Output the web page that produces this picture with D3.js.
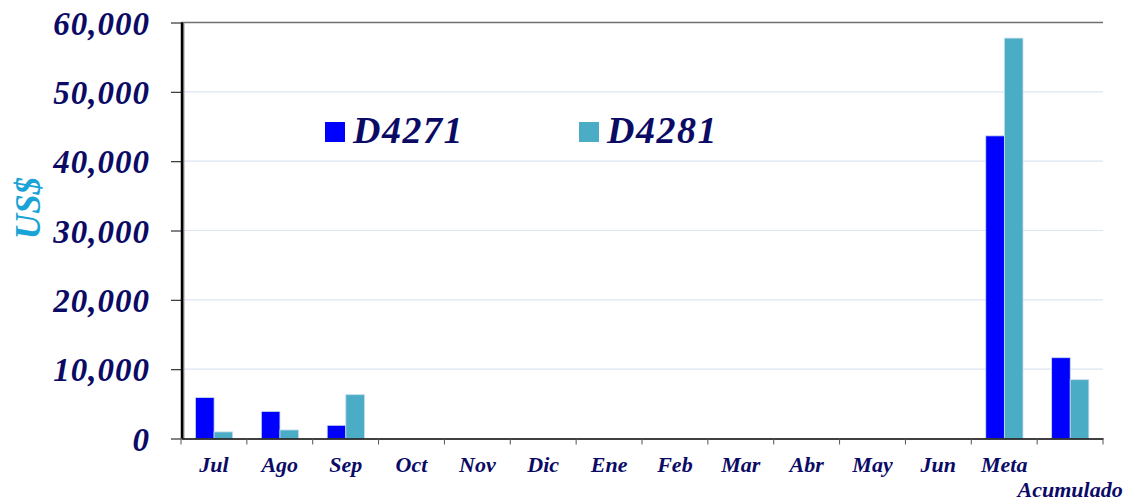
<!DOCTYPE html>
<html><head><meta charset="utf-8">
<script src="https://cdn.jsdelivr.net/npm/d3@7"></script>
<style>body{margin:0;background:#fff}svg{display:block}</style>
</head><body>
<svg id="c" width="1128" height="502"></svg>
<script>
const categories = ["Jul","Ago","Sep","Oct","Nov","Dic","Ene","Feb","Mar","Abr","May","Jun","Meta","Acumulado"];
const seriesNames = ["D4271","D4281"];
const d4271 = [5900, 3900, 1900, 0, 0, 0, 0, 0, 0, 0, 0, 0, 43650, 11650];
const d4281 = [950, 1230, 6320, 0, 0, 0, 0, 0, 0, 0, 0, 0, 57750, 8480];
const yTicks = [0, 10000, 20000, 30000, 40000, 50000, 60000];
const colors = ["#0000ff", "#4bacc6"];

const svg = d3.select("#c");
const L = 181, R = 1103, T = 22.5, B = 438.5;
const navy = "#0b0b66";
const font = "'Liberation Serif', serif";

const x = d3.scaleBand().domain(categories).range([L, R]).paddingInner(0).paddingOuter(0);
const x1 = d3.scaleBand().domain(seriesNames).range([x.bandwidth()*0.22, x.bandwidth()*0.785]).padding(0);
const y = d3.scaleLinear().domain([0, 60000]).range([B, T]);

// gridlines
svg.append("g").selectAll("line").data(yTicks.filter(d => d > 0 && d < 60000)).join("line")
  .attr("x1", L).attr("x2", R).attr("y1", d => y(d)).attr("y2", d => y(d))
  .attr("stroke", "#dce6f2").attr("stroke-width", 1.2);
// top border
svg.append("line").attr("x1", L).attr("x2", R).attr("y1", y(60000)).attr("y2", y(60000))
  .attr("stroke", "#707070").attr("stroke-width", 1.5);

// bars
const data = categories.map((c, i) => ({c, vals: [d4271[i], d4281[i]]}));
const g = svg.append("g");
data.forEach(d => {
  d.vals.forEach((v, j) => {
    if (v <= 0) return;
    g.append("rect")
      .attr("x", x(d.c) + x1(seriesNames[j]))
      .attr("y", y(v))
      .attr("width", x1.bandwidth())
      .attr("height", y(0) - y(v))
      .attr("fill", colors[j])
      .attr("stroke", "#c8dcea").attr("stroke-width", 0.8);
  });
});

// y axis
const yAxis = d3.axisLeft(y).tickValues(yTicks).tickSize(10).tickFormat(d3.format(","));
const ya = svg.append("g").attr("transform", `translate(${L},0)`).call(yAxis);
ya.select(".domain").remove();
ya.selectAll(".tick line").attr("stroke", "#333").attr("stroke-width", 1.2);
ya.selectAll(".tick text").attr("x", -31).attr("dy", "0.35em")
  .attr("fill", navy).style("font-family", font).style("font-size", "33px")
  .style("font-weight", "bold").style("font-style", "italic").style("letter-spacing", "1px");
// left axis line (thick with shadow)
svg.append("line").attr("x1", L + 2.5).attr("x2", L + 2.5).attr("y1", T).attr("y2", B)
  .attr("stroke", "#999").attr("stroke-width", 2);
svg.append("line").attr("x1", L + 1).attr("x2", L + 1).attr("y1", T).attr("y2", B)
  .attr("stroke", "#000").attr("stroke-width", 2.5);

// x axis
const xa = svg.append("g").attr("transform", `translate(0,${B})`)
  .call(d3.axisBottom(x).tickSize(0).tickFormat(""));
xa.select(".domain").attr("stroke", "#000").attr("stroke-width", 1.5);
const bounds = categories.map(c => x(c)).concat([R]);
svg.append("g").selectAll("line").data(bounds).join("line")
  .attr("x1", d => d).attr("x2", d => d).attr("y1", B).attr("y2", B + 6)
  .attr("stroke", "#555").attr("stroke-width", 1);
svg.append("g").selectAll("text").data(categories).join("text")
  .attr("x", d => x(d) + x.bandwidth()/2)
  .attr("y", (d, i) => i === categories.length - 1 ? 497 : 472)
  .attr("text-anchor", "middle")
  .attr("fill", navy).style("font-family", font).style("font-size", "22px")
  .style("font-weight", "bold").style("font-style", "italic")
  .text(d => d);

// y axis title
svg.append("text").attr("transform", "translate(40,208) rotate(-90)")
  .attr("text-anchor", "middle").attr("fill", "#1aa3d6")
  .style("font-family", font).style("font-size", "35px")
  .style("font-weight", "bold").style("font-style", "italic").text("US$");

// legend
const legX = [325, 579];
seriesNames.forEach((s, i) => {
  svg.append("rect").attr("x", legX[i]).attr("y", 122).attr("width", 20).attr("height", 20).attr("fill", colors[i]);
  svg.append("text").attr("x", legX[i] + 28).attr("y", 143)
    .attr("fill", navy).style("font-family", font).style("font-size", "38px")
    .style("font-weight", "bold").style("font-style", "italic").style("letter-spacing", "1.5px").text(s);
});
</script>
</body></html>
